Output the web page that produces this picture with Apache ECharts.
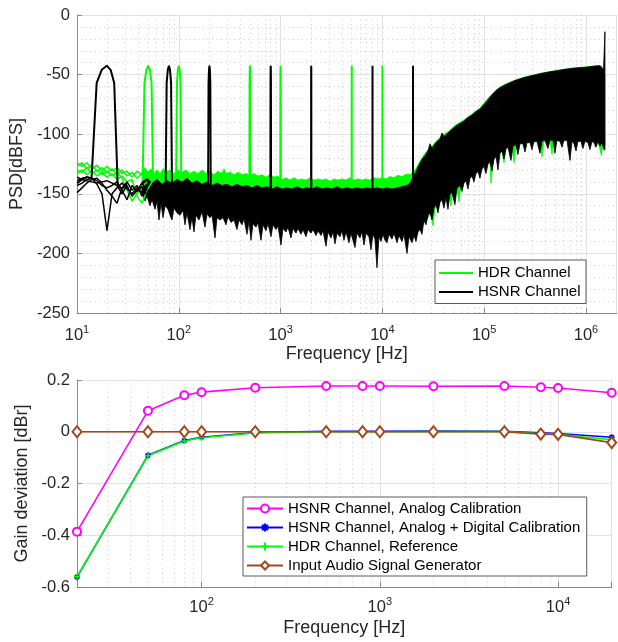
<!DOCTYPE html>
<html><head><meta charset="utf-8">
<script src="https://cdn.jsdelivr.net/npm/echarts@6/dist/echarts.min.js"></script>
<style>html,body{margin:0;padding:0;background:#fff}#c{width:618px;height:642px}</style>
</head><body><div id="c"></div>
<script>
// ---------- PSD chart data ([frequency Hz, dBFS]) ----------
const psdMinorTicks = [20,30,40,50,60,70,80,90,200,300,400,500,600,700,800,900,2000,3000,4000,5000,6000,7000,8000,9000,20000,30000,40000,50000,60000,70000,80000,90000,200000,300000,400000,500000,600000,700000,800000,900000];

const hdrUpper = [[43.5,-131],[46.6,-128],[49.8,-132],[53.3,-129],[57.1,-133],[61.1,-130],[65.4,-133],[70,-129],[74.9,-132],[82,-130],[89.7,-133],[98.2,-130],[107.5,-132],[117.7,-130],[128.8,-133],[141,-131],[154.4,-133],[169,-130],[185,-133],[202.6,-131],[221.8,-134],[242.8,-131],[265.7,-133],[278,-129],[290.9,-133],[318.4,-132],[348.5,-134],[381.6,-132],[417.8,-134],[457.3,-133],[500.6,-135],[548.1,-133],[599.9,-135],[656.8,-134],[719,-136],[787.1,-134],[861.6,-136],[943.1,-135],[1032,-138],[1130,-136.5],[1237,-138.5],[1354,-136.5],[1482,-138.5],[1623,-137.5],[1777,-138.5],[1945,-136.5],[2129,-138.5],[2331,-137.5],[2552,-138.5],[2793,-137.5],[3058,-139.5],[3347,-137.5],[3664,-138.5],[4011,-137.5],[4391,-138.5],[4806,-136.5],[5260,-138.5],[5758,-137.5],[6303,-138.5],[6900,-137.5],[7553,-138.5],[8268,-136.5],[9053,-137.5],[9911,-136.5],[10850,-137.5],[11878,-135.5],[13004,-136.5],[14237,-134.5],[15585,-135.5],[17062,-133.5],[18678,-134],[19989,-131.5],[21391,-129],[22893,-124],[24499,-120],[26219,-116],[28059,-113],[30715,-110],[33622,-106],[36806,-103],[40290,-100],[44104,-98],[48280,-95],[52850,-92],[57854,-90],[63331,-88],[69326,-85.5],[75889,-83],[83073,-80.5],[90937,-78],[99573,-74],[108999,-70],[119315,-66.5],[130609,-63],[142972,-60.5],[160082,-58.3],[179244,-56.4],[200697,-54.7],[224717,-53.3],[251735,-52],[281830,-51],[353272,-49],[442981,-47.5],[555518,-46.1],[696645,-44.8],[873382,-44],[1094990,-43.2],[1372831,-42.4],[1436300,-44],[1485830,-48],[1536650,-50]];

const hdrLower = [[43.5,-148],[108,-150],[1000,-152],[19542,-152],[22381,-170],[25633,-175],[28059,-170],[30028,-165],[31417,-177],[32871,-162],[36806,-157],[41211,-153],[45113,-148],[47200,-160],[49384,-147],[54059,-145],[56560,-157],[59177,-142],[66261,-139],[72534,-137],[83073,-133],[90937,-131],[99573,-127],[108999,-125],[114040,-124],[116648,-141],[122044,-122],[136648,-118],[149586,-114],[156503,-124],[163743,-112],[187535,-110],[196209,-124],[205285,-109],[224717,-108],[281830,-107],[353272,-106],[369616,-119],[386713,-106],[442981,-105],[463474,-117],[484918,-105],[555518,-106],[696645,-105],[873382,-106],[1094990,-106],[1312146,-106],[1420230,-118],[1469130,-107],[1536650,-110]];

const hsnrUpper = [[43.5,-140],[48.7,-137],[54.6,-141],[61.1,-138],[68.5,-142],[76.6,-139],[85.8,-141],[96,-138],[107.5,-140],[120.4,-137],[134.8,-141],[150.9,-139],[169,-142],[189.3,-140],[212,-143],[237.3,-141],[265.7,-143],[297.5,-142],[333.2,-144],[373,-142],[417.8,-144],[467.7,-143],[523.8,-145],[586.5,-143],[656.8,-145],[735.5,-144],[823.5,-146],[922.1,-144],[1032,-146],[1156,-145],[1294,-146],[1449,-144],[1623,-146],[1817,-145],[2035,-146],[2279,-144],[2552,-146],[2857,-145],[3199,-146],[3582,-144],[4011,-146],[4491,-145],[5028,-146],[5630,-145],[6303,-146],[7058,-145],[7903,-146],[8850,-145],[9911,-146],[11098,-145],[12429,-146],[13918,-145],[15585,-144],[17452,-143],[18678,-141],[19989,-136],[21391,-131],[22893,-126],[24499,-121],[26219,-118],[28059,-114],[29357,-108],[30715,-112],[33622,-107],[36806,-104],[38508,-99],[40290,-102],[44104,-99],[48280,-96],[52850,-93],[57854,-91],[63331,-89],[69326,-86],[75889,-84],[83073,-81],[90937,-79],[99573,-75],[108999,-71],[119315,-67],[130609,-63.5],[142972,-61],[160082,-58.7],[179244,-56.8],[200697,-55],[224717,-53.6],[251735,-52.3],[281830,-51.3],[315565,-50.3],[353272,-49.3],[395560,-48.4],[442981,-47.7],[496006,-47],[555518,-46.3],[622009,-45.6],[696645,-45],[780026,-44.5],[873382,-44.2],[977929,-43.9],[1094990,-43.4],[1226043,-42.8],[1372831,-42.6],[1436300,-44],[1485830,-47],[1536650,-14]];

const hsnrLower = [[43.5,-150],[46.6,-156],[48.7,-152],[52.1,-160],[54.6,-155],[58.4,-163],[61.1,-156],[63.9,-172],[66.9,-158],[70,-170],[73.2,-160],[78.3,-163],[82,-168],[85.8,-172],[89.7,-162],[96,-166],[102.8,-168],[110,-164],[115,-176],[120.4,-166],[128.8,-180],[134.8,-170],[141,-182],[147.5,-168],[157.9,-172],[169,-165],[180.9,-178],[189.3,-167],[202.6,-170],[212,-168],[226.9,-187],[237.3,-170],[254,-172],[271.8,-170],[290.9,-176],[304.3,-169],[325.7,-174],[348.5,-172],[373,-180],[390.4,-172],[417.8,-176],[437,-171],[467.7,-184],[489.4,-173],[512.1,-189],[535.8,-175],[573.4,-178],[599.9,-174],[642.1,-189],[671.8,-176],[719,-181],[752.3,-175],[805.1,-186],[842.4,-176],[901.5,-180],[943.1,-177],[1009,-193],[1056,-179],[1130,-182],[1182,-178],[1265,-187],[1324,-179],[1417,-183],[1482,-179],[1586,-184],[1660,-180],[1777,-186],[1859,-180],[1989,-183],[2081,-180],[2228,-185],[2331,-181],[2495,-185],[2610,-181],[2793,-194],[2922,-182],[3128,-187],[3273,-182],[3424,-192],[3582,-183],[3834,-186],[4011,-181],[4197,-189],[4391,-182],[4699,-191],[4916,-183],[5381,-195],[5630,-183],[6025,-187],[6303,-182],[6595,-193],[6900,-183],[7384,-186],[7726,-197],[8083,-184],[8458,-188],[8850,-212],[9260,-186],[9690,-190],[10138,-184],[10607,-189],[11098,-191],[11612,-184],[12429,-188],[13004,-183],[13918,-191],[14563,-185],[15585,-190],[16307,-184],[17452,-200],[18260,-186],[19542,-191],[20446,-185],[21391,-190],[22381,-182],[23416,-180],[24499,-184],[25633,-172],[26819,-176],[28059,-168],[29357,-166],[30715,-172],[32135,-162],[33622,-159],[35178,-166],[36806,-157],[38508,-155],[40290,-162],[42154,-153],[44104,-163],[46145,-150],[48280,-149],[51669,-159],[54059,-145],[57854,-143],[60531,-148],[63331,-141],[66261,-139],[69326,-146],[72534,-137],[75889,-135],[79400,-140],[83073,-133],[86917,-131],[90937,-137],[95145,-129],[99573,-127],[104179,-133],[108999,-125],[114040,-123],[119315,-131],[124834,-121],[130609,-118],[136648,-130],[142972,-116],[149586,-114],[156503,-121],[163743,-112],[171318,-111],[183343,-122],[191824,-110],[205285,-109],[214781,-117],[224717,-108],[240608,-108],[251735,-115],[263380,-107],[281830,-107],[294871,-113],[308510,-106],[330165,-106],[353272,-116],[369616,-106],[395560,-105],[423395,-112],[442981,-105],[474072,-105],[496006,-116],[518952,-105],[555518,-106],[581220,-111],[608105,-105],[650782,-105],[696645,-122],[728871,-106],[762587,-108],[797860,-114],[834769,-106],[893363,-106],[934690,-112],[977929,-106],[1046573,-107],[1094990,-113],[1145637,-106],[1198630,-107],[1254095,-111],[1312146,-106],[1372831,-110],[1436300,-107],[1502700,-113],[1536650,-113]];

const hdrLowA = [[10,-124],[11.2,-127],[12.5,-124],[14,-129],[15.7,-126],[17.6,-131],[19.7,-127],[22.1,-131],[24.7,-128],[27.7,-133],[31,-131],[34.7,-136],[38.9,-131],[43.5,-134],[48.7,-131]];
const hdrLowB = [[10,-127],[11.2,-124],[12.5,-129],[14,-126],[15.7,-131],[17.6,-128],[19.7,-132],[22.1,-129],[24.7,-134],[27.7,-130],[31,-135],[34.7,-132],[38.9,-137],[43.5,-133],[48.7,-137]];
const hdrLowC = [[10,-130],[11.2,-132],[12.5,-128],[14,-133],[15.7,-130],[17.6,-134],[19.7,-131],[22.1,-135],[24.7,-132],[27.7,-137],[31,-147],[34.7,-156],[38.9,-150],[43.5,-144],[48.7,-140]];
const hdrLowD = [[10,-133],[11.2,-130],[12.5,-134],[14,-131],[15.7,-135],[17.6,-132],[19.7,-136],[22.1,-133],[24.7,-138],[27.7,-135],[31,-140],[34.7,-138],[38.9,-152],[43.5,-158],[48.7,-147],[54.6,-140]];

const hsnrLowA = [[10,-139],[11.2,-137],[12.5,-136],[14,-137],[15.7,-142],[17.6,-150],[19.7,-181],[22.1,-150],[24.7,-145],[27.7,-141],[31,-146],[34.7,-150],[38.9,-145],[43.5,-149],[48.7,-144]];
const hsnrLowB = [[10,-149],[11.2,-145],[12.5,-141],[14,-138],[15.7,-137],[17.6,-141],[19.7,-147],[22.1,-152],[24.7,-158],[27.7,-145],[31,-140],[34.7,-147],[38.9,-143],[43.5,-152],[48.7,-146]];
const hsnrLowC = [[10,-143],[11.2,-141],[12.5,-138],[14,-137],[15.7,-139],[17.6,-143],[19.7,-145],[22.1,-143],[24.7,-140],[27.7,-147],[31,-155],[34.7,-143],[38.9,-148],[43.5,-144],[48.7,-151]];
const hsnrLowD = [[10,-136],[11.2,-138],[12.5,-139],[14,-140],[15.7,-141],[17.6,-140],[19.7,-139],[22.1,-141],[24.7,-143],[27.7,-150],[31,-143],[34.7,-152],[38.9,-147],[43.5,-141],[48.7,-147]];

const hsnrTone20 = [[10,-141],[11.2,-138],[12.5,-136],[13.9,-137],[15.6,-57],[17.5,-46],[19.6,-42.5],[21.4,-46],[23.2,-57],[25.1,-143],[27.7,-146],[31,-141]];
const hsnrTone80 = [[74.3,-141],[76,-57],[78,-46],[80,-42.5],[82,-46],[84,-57],[85.7,-142]];
const hsnrTone200 = [[194,-148],[196,-57],[198,-46],[200,-42.5],[202,-46],[204,-57],[206,-148]];
const hsnrTone800 = [[794,-150],[796,-57],[798,-46],[800,-42.5],[802,-46],[804,-57],[806,-150]];
const hsnrTone2000 = [[1994,-150],[1996,-57],[1998,-46],[2000,-42.5],[2002,-46],[2004,-57],[2006,-150]];
const hsnrTone8000 = [[7994,-150],[7996,-57],[7998,-46],[8000,-42.5],[8002,-46],[8004,-57],[8006,-150]];
const hsnrTone20000 = [[19994,-150],[19996,-57],[19998,-46],[20000,-42.5],[20002,-46],[20004,-57],[20006,-150]];

const hdrTone50 = [[44.3,-132],[46,-57],[48,-46],[50,-42.5],[52,-46],[54,-57],[55.7,-132]];
const hdrTone100 = [[94.3,-132],[96,-57],[98,-46],[100,-42.5],[102,-46],[104,-57],[105.7,-133]];
const hdrTone500 = [[494,-140],[496,-57],[498,-46],[500,-42.5],[502,-46],[504,-57],[506,-140]];
const hdrTone1000 = [[994,-140],[996,-57],[998,-46],[1000,-42.5],[1002,-46],[1004,-57],[1006,-140]];
const hdrTone5000 = [[4994,-140],[4996,-57],[4998,-46],[5000,-42.5],[5002,-46],[5004,-57],[5006,-140]];
const hdrTone10000 = [[9994,-140],[9996,-57],[9998,-46],[10000,-42.5],[10002,-46],[10004,-57],[10006,-140]];

// ---------- Gain deviation chart data ----------
const gainMinorTicks = [30,40,50,60,70,80,90,200,300,400,500,600,700,800,900,2000,3000,4000,5000,6000,7000,8000,9000];
const gainFreqs = [20, 50, 80, 100, 200, 500, 800, 1000, 2000, 5000, 8000, 10000, 20000];
const hsnrAnalogCal = [-0.386, 0.081, 0.141, 0.153, 0.170, 0.177, 0.177, 0.177, 0.176, 0.177, 0.172, 0.169, 0.151];
const hsnrDigitalCal = [-0.562, -0.091, -0.034, -0.021, -0.003, 0.002, 0.002, 0.002, 0.003, 0.002, -0.004, -0.007, -0.021];
const hdrReference = [-0.560, -0.093, -0.036, -0.023, -0.005, 0.000, 0.000, 0.000, 0.001, 0.001, -0.008, -0.010, -0.031];
const generatorRef = [0, 0, 0, 0, 0, 0, 0, 0, 0, 0, -0.009, -0.010, -0.042];

// ---------- styling ----------
const FONT = '"Liberation Sans", Arial, Helvetica, sans-serif';
const TXT = '#262626';
const AX = '#8a8a8a';
const GRIDC = '#e2e2e2';
const MINORC = '#cdcdcd';
const GREEN = '#00ff00';

function logLabel(v) {
  const e = Math.log10(v), r = Math.round(e);
  return Math.abs(e - r) < 1e-6 ? '{b|10}{s|' + r + '}' : '';
}
const richLbl = {
  b: {fontFamily: FONT, fontSize: 16.5, color: TXT, lineHeight: 20, verticalAlign: 'bottom'},
  s: {fontFamily: FONT, fontSize: 11, color: TXT, lineHeight: 10, verticalAlign: 'top'}
};

function bandSeries(name, upper, lower, color) {
  return {
    type: 'custom', name, xAxisIndex: 0, yAxisIndex: 0, silent: true, animation: false, clip: true,
    data: [upper[0]], itemStyle: {color},
    renderItem: function (params, api) {
      const pts = [];
      upper.forEach(p => pts.push(api.coord(p)));
      for (let i = lower.length - 1; i >= 0; i--) pts.push(api.coord(lower[i]));
      return {type: 'polygon', shape: {points: pts}, style: {fill: color, stroke: color, lineWidth: 0.8}};
    }
  };
}
function trace(name, data, color, width) {
  return {type: 'line', name, xAxisIndex: 0, yAxisIndex: 0, data, symbol: 'none', showSymbol: false,
    lineStyle: {color, width}, itemStyle: {color}, silent: true, animation: false, clip: true};
}
function minorGrid(xi, yi, ticks, anchor) {
  return {type: 'line', xAxisIndex: xi, yAxisIndex: yi, z: 1, silent: true, animation: false,
    data: [anchor], symbol: 'none', lineStyle: {opacity: 0},
    markLine: {z: 1, silent: true, animation: false, symbol: ['none', 'none'], label: {show: false},
      lineStyle: {color: MINORC, type: [1, 3.5], width: 1}, emphasis: {disabled: true},
      data: ticks.map(v => ({xAxis: v}))}};
}
function gainSeries(name, values, color, symbol, size) {
  return {type: 'line', name, xAxisIndex: 1, yAxisIndex: 1, data: gainFreqs.map((f, i) => [f, values[i]]),
    symbol, symbolSize: size, showSymbol: true, animation: false,
    lineStyle: {color, width: 1.6}, itemStyle: {color, borderColor: color, borderWidth: 1.5}};
}

const axisCommonX = {
  type: 'log', logBase: 10,
  axisLine: {show: true, onZero: false, lineStyle: {color: AX}},
  axisTick: {show: true, inside: true, length: 5, lineStyle: {color: AX}},
  splitLine: {show: true, lineStyle: {color: GRIDC}},
  nameLocation: 'middle', nameTextStyle: {fontFamily: FONT, fontSize: 18, color: TXT}
};
const axisCommonY = {
  type: 'value',
  axisLine: {show: true, onZero: false, lineStyle: {color: AX}},
  axisTick: {show: true, inside: true, length: 5, lineStyle: {color: AX}},
  axisLabel: {fontFamily: FONT, fontSize: 16.5, color: TXT, margin: 7},
  splitLine: {show: true, lineStyle: {color: GRIDC}},
  nameLocation: 'middle', nameTextStyle: {fontFamily: FONT, fontSize: 18, color: TXT}
};

const option = {
  backgroundColor: '#fff',
  animation: false,
  grid: [
    {left: 77, right: 1.4, top: 15, bottom: 329, outerBoundsMode: 'none'},
    {left: 77, right: 6.3, top: 380, bottom: 55, outerBoundsMode: 'none'}
  ],
  xAxis: [
    Object.assign({}, axisCommonX, {gridIndex: 0, min: 10, max: 2000000, name: 'Frequency [Hz]', nameGap: 32,
      axisLabel: {formatter: logLabel, margin: 11, rich: richLbl, interval: 0, showMaxLabel: false}}),
    Object.assign({}, axisCommonX, {gridIndex: 1, min: 20, max: 20000, name: 'Frequency [Hz]', nameGap: 32,
      axisLabel: {formatter: logLabel, margin: 9, rich: richLbl, interval: 0}})
  ],
  yAxis: [
    Object.assign({}, axisCommonY, {gridIndex: 0, min: -250, max: 0, interval: 50, name: 'PSD[dBFS]', nameGap: 46,
      minorTick: {show: false, splitNumber: 5},
      minorSplitLine: {show: true, lineStyle: {color: MINORC, type: [1, 3.5]}}}),
    Object.assign({}, axisCommonY, {gridIndex: 1, min: -0.6, max: 0.2, interval: 0.2, name: 'Gain deviation [dBr]', nameGap: 46})
  ],
  legend: [
    {orient: 'vertical', left: 435, top: 260, padding: [5.5, 5.5, 4, 4], itemWidth: 34, itemHeight: 14, itemGap: 4,
      borderColor: '#5a5a5a', borderWidth: 1, backgroundColor: '#fff', selectedMode: false,
      textStyle: {fontFamily: FONT, fontSize: 15, color: '#000', lineHeight: 14},
      data: [
        {name: 'HDR Channel', icon: 'path://M0,0H34V2H0Z', itemStyle: {color: GREEN}},
        {name: 'HSNR Channel', icon: 'path://M0,0H34V2H0Z', itemStyle: {color: '#000'}}
      ]},
    {orient: 'vertical', left: 243, top: 497, padding: [4, 6.5, 3, 3], itemWidth: 36, itemHeight: 10, itemGap: 4,
      borderColor: '#5a5a5a', borderWidth: 1, backgroundColor: '#fff', selectedMode: false,
      textStyle: {fontFamily: FONT, fontSize: 15, color: '#000', lineHeight: 14},
      data: ['HSNR Channel, Analog Calibration', 'HSNR Channel, Analog + Digital Calibration',
             'HDR Channel, Reference', 'Input Audio Signal Generator']}
  ],
  series: [
    minorGrid(0, 0, psdMinorTicks, [1000, -400]),
    bandSeries('HDR Channel', hdrUpper, hdrLower, GREEN),
    trace('HDR Channel', hdrLowA, GREEN, 1.5),
    trace('HDR Channel', hdrLowB, GREEN, 1.5),
    trace('HDR Channel', hdrLowC, GREEN, 1.5),
    trace('HDR Channel', hdrLowD, GREEN, 1.5),
    trace('HDR Channel', hdrTone50, GREEN, 2),
    trace('HDR Channel', hdrTone100, GREEN, 2),
    trace('HDR Channel', hdrTone500, GREEN, 2),
    trace('HDR Channel', hdrTone1000, GREEN, 2),
    trace('HDR Channel', hdrTone5000, GREEN, 2),
    trace('HDR Channel', hdrTone10000, GREEN, 2),
    bandSeries('HSNR Channel', hsnrUpper, hsnrLower, '#000'),
    trace('HSNR Channel', hsnrLowA, '#000', 1.5),
    trace('HSNR Channel', hsnrLowB, '#000', 1.5),
    trace('HSNR Channel', hsnrLowC, '#000', 1.5),
    trace('HSNR Channel', hsnrLowD, '#000', 1.5),
    trace('HSNR Channel', hsnrTone20, '#000', 2),
    trace('HSNR Channel', hsnrTone80, '#000', 2),
    trace('HSNR Channel', hsnrTone200, '#000', 2),
    trace('HSNR Channel', hsnrTone800, '#000', 2),
    trace('HSNR Channel', hsnrTone2000, '#000', 2),
    trace('HSNR Channel', hsnrTone8000, '#000', 2),
    trace('HSNR Channel', hsnrTone20000, '#000', 2),
    minorGrid(1, 1, gainMinorTicks, [1000, -5]),
    gainSeries('HSNR Channel, Analog Calibration', hsnrAnalogCal, '#ff00ff', 'emptyCircle', 8),
    gainSeries('HSNR Channel, Analog + Digital Calibration', hsnrDigitalCal, '#0000ff',
      'path://M5,0V10M0,5H10M1.5,1.5L8.5,8.5M8.5,1.5L1.5,8.5', 6),
    gainSeries('HDR Channel, Reference', hdrReference, GREEN, 'path://M5,0V10M0,5H10', 6),
    gainSeries('Input Audio Signal Generator', generatorRef, '#a5461a', 'emptyDiamond', [9, 11])
  ]
};

const chart = echarts.init(document.getElementById('c'), null, {renderer: 'canvas'});
chart.setOption(option);
</script></body></html>
